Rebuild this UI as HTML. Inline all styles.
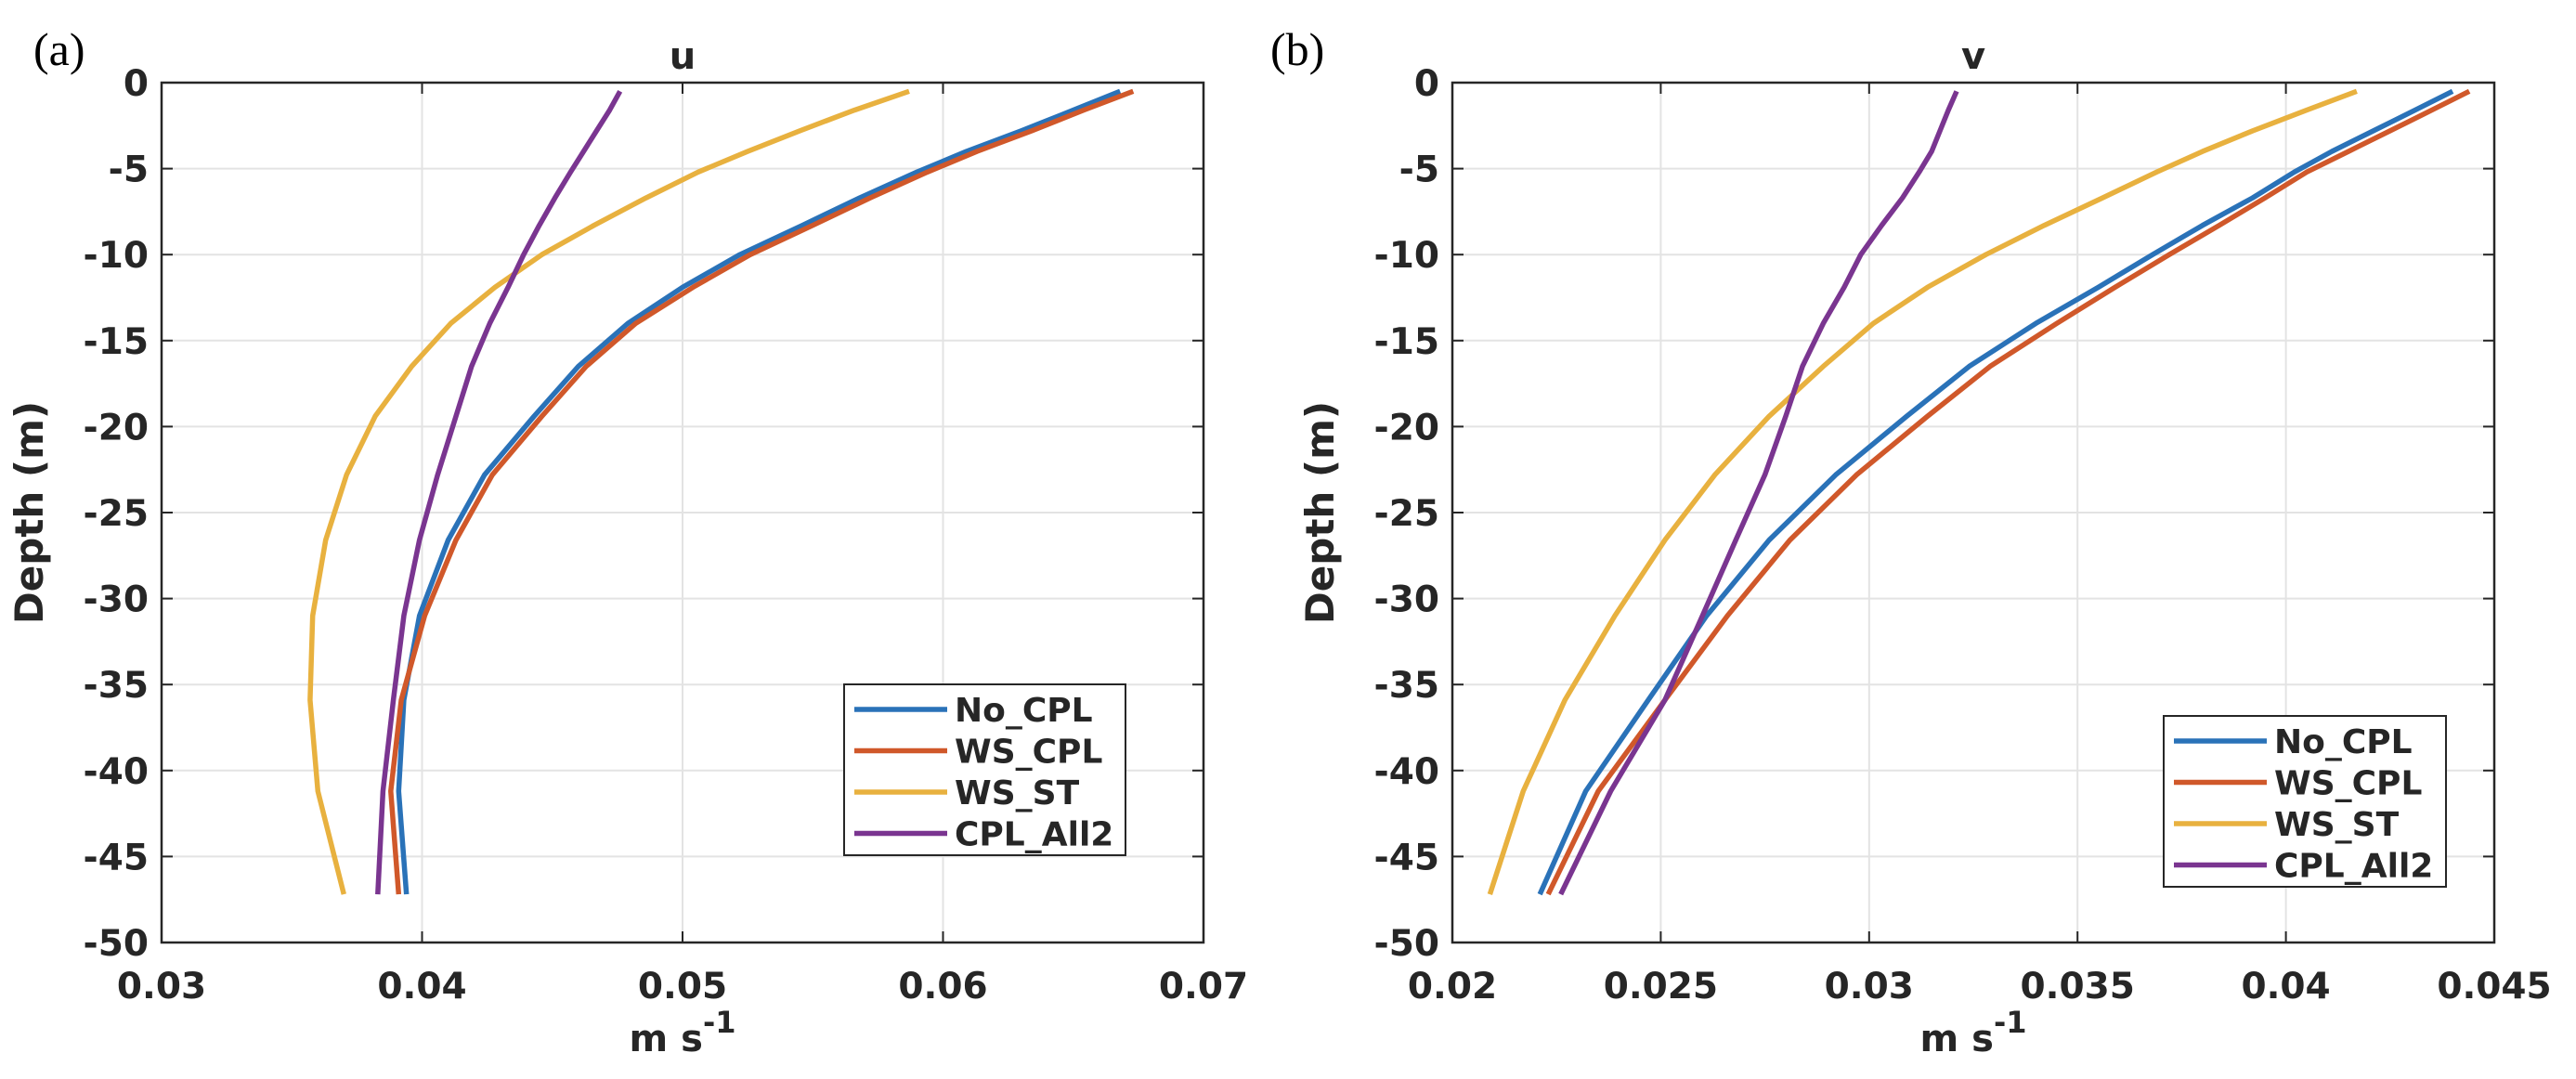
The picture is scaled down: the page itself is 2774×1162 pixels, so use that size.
<!DOCTYPE html>
<html><head><meta charset="utf-8">
<style>
html,body{margin:0;padding:0;background:#fff;}
svg{display:block;}
text{font-family:"DejaVu Sans","Liberation Sans",sans-serif;font-weight:bold;fill:#262626;}
.lbl{font-family:"Liberation Serif","DejaVu Serif",serif;font-weight:normal;fill:#000;}
</style></head>
<body>
<svg id="fig" width="2774" height="1162" viewBox="0 0 2774 1162"></svg>
<script>
const depths = [-0.5,-1.6,-2.8,-4,-5.2,-6.7,-8.3,-10,-11.9,-14,-16.5,-19.4,-22.8,-26.6,-31,-35.9,-41.2,-47.2];
const seriesNames = ["No_CPL","WS_CPL","WS_ST","CPL_All2"];
const uNoCPL = [0.0668,0.0650,0.0630,0.0609,0.0590,0.0568,0.0546,0.0522,0.0500,0.0479,0.0460,0.0443,0.0424,0.0410,0.0399,0.0393,0.0391,0.0394];
const uWSCPL = [0.0673,0.0654,0.0634,0.0613,0.0594,0.0572,0.0550,0.0526,0.0504,0.0482,0.0463,0.0446,0.0427,0.0413,0.0401,0.0392,0.0388,0.0391];
const uWSST = [0.0587,0.0566,0.0545,0.0525,0.0506,0.0486,0.0466,0.0446,0.0428,0.0411,0.0396,0.0382,0.0371,0.0363,0.0358,0.0357,0.0360,0.0370];
const uCPLAll2 = [0.0476,0.0472,0.0467,0.0462,0.0457,0.0451,0.0445,0.0439,0.0433,0.0426,0.0419,0.0413,0.0406,0.0399,0.0393,0.0389,0.0385,0.0383];
const vNoCPL = [0.0440,0.0431,0.0421,0.0411,0.0402,0.0392,0.0380,0.0368,0.0355,0.0340,0.0324,0.0309,0.0292,0.0276,0.0261,0.0247,0.0232,0.0221];
const vWSCPL = [0.0444,0.0435,0.0425,0.0415,0.0405,0.0395,0.0384,0.0372,0.0359,0.0345,0.0329,0.0314,0.0297,0.0281,0.0266,0.0251,0.0235,0.0223];
const vWSST = [0.0417,0.0405,0.0392,0.0380,0.0369,0.0356,0.0342,0.0328,0.0314,0.0301,0.0289,0.0276,0.0263,0.0251,0.0239,0.0227,0.0217,0.0209];
const vCPLAll2 = [0.0321,0.0319,0.0317,0.0315,0.0312,0.0308,0.0303,0.0298,0.0294,0.0289,0.0284,0.0280,0.0275,0.0268,0.0260,0.0251,0.0238,0.0226];
const yTicks = [0,-5,-10,-15,-20,-25,-30,-35,-40,-45,-50];
const uTicks = [0.03,0.04,0.05,0.06,0.07];
const uTickLabels = ["0.03","0.04","0.05","0.06","0.07"];
const vTicks = [0.02,0.025,0.03,0.035,0.04,0.045];
const vTickLabels = ["0.02","0.025","0.03","0.035","0.04","0.045"];

const colors = ["#2A72B8","#D0582A","#E8B13F","#7A3590"];
const NS = "http://www.w3.org/2000/svg";
const svg = document.getElementById('fig');
function mk(tag, attrs, parent){ const e=document.createElementNS(NS,tag); for(const k in attrs) e.setAttribute(k,attrs[k]); (parent||svg).appendChild(e); return e; }

function panel(cfg){
  const g = mk('g',{});
  
  
  const L=cfg.x0,R=cfg.x1,T=89,B=1015;
  const xs = v => L + (v-cfg.xmin)/(cfg.xmax-cfg.xmin)*(R-L);
  const ys = d => T + (0-d)/50*(B-T);
  cfg.xt.forEach(v=>{ const l=mk('line',{x1:xs(v),x2:xs(v),y1:T,y2:B,stroke:'#e3e3e3','stroke-width':2},g);
      });
  yTicks.forEach(v=>{ const l=mk('line',{x1:L,x2:R,y1:ys(v),y2:ys(v),stroke:'#e3e3e3','stroke-width':2},g);
      });
  cfg.xt.forEach(v=>{ mk('line',{x1:xs(v),x2:xs(v),y1:B,y2:B-12,stroke:'#262626','stroke-width':2},g); mk('line',{x1:xs(v),x2:xs(v),y1:T,y2:T+12,stroke:'#262626','stroke-width':2},g); });
  yTicks.forEach(v=>{ mk('line',{x1:L,x2:L+12,y1:ys(v),y2:ys(v),stroke:'#262626','stroke-width':2},g); mk('line',{x1:R,x2:R-12,y1:ys(v),y2:ys(v),stroke:'#262626','stroke-width':2},g); });
  cfg.series.forEach((arr,i)=>{
    const pts = arr.map((v,j)=>xs(v).toFixed(1)+','+ys(depths[j]).toFixed(1)).join(' ');
    const p = mk('polyline',{points:pts,fill:'none',stroke:colors[i],'stroke-width':5.5,'stroke-linejoin':'round'},g);
    
    
  });
  const box = mk('rect',{x:L,y:T,width:R-L,height:B-T,fill:'none',stroke:'#262626','stroke-width':2.5},g);
   
  cfg.xt.forEach((v,i)=>{ const t=mk('text',{x:xs(v),y:B+60,'text-anchor':'middle','font-size':39},g); t.textContent=cfg.xl[i];
      });
  yTicks.forEach(v=>{ const t=mk('text',{x:L-14,y:ys(v)+14,'text-anchor':'end','font-size':39},g); t.textContent=String(v);
      });
  const ti=mk('text',{x:(L+R)/2,y:74,'text-anchor':'middle','font-size':40},g); ti.textContent=cfg.title;
   
  const yl=mk('text',{x:0,y:0,'text-anchor':'middle','font-size':42,transform:`translate(${L-128},${(T+B)/2}) rotate(-90)`},g);
  yl.textContent='Depth (m)';
   
  const xl=mk('text',{x:(L+R)/2,y:1132,'text-anchor':'middle','font-size':40},g);
   
  xl.innerHTML='m s<tspan dy="-20" font-size="32">-1</tspan>';
  const pl=mk('text',{x:cfg.labx,y:70,'font-size':50,class:'lbl'},g); pl.textContent=cfg.lab;
   
  const lg=mk('g',{},g);
   
  mk('rect',{x:cfg.lx0,y:cfg.ly0,width:cfg.lx1-cfg.lx0,height:cfg.ly1-cfg.ly0,fill:'#fff',stroke:'#262626','stroke-width':2},lg);
  seriesNames.forEach((n,i)=>{
    const yy = cfg.ly0+27+i*44.5;
    mk('line',{x1:cfg.lx0+11,x2:cfg.lx0+111,y1:yy,y2:yy,stroke:colors[i],'stroke-width':5.5},lg);
    const t=mk('text',{x:cfg.lx0+119,y:yy+13,'font-size':36},lg); t.textContent=n;
     
  });
}
panel({name:'panel-u',x0:174,x1:1296,xmin:0.03,xmax:0.07,xt:uTicks,xl:uTickLabels,title:'u',lab:'(a)',labx:36,
  series:[uNoCPL,uWSCPL,uWSST,uCPLAll2],lx0:909,lx1:1212,ly0:737,ly1:921});
panel({name:'panel-v',x0:1564,x1:2686,xmin:0.02,xmax:0.045,xt:vTicks,xl:vTickLabels,title:'v',lab:'(b)',labx:1368,
  series:[vNoCPL,vWSCPL,vWSST,vCPLAll2],lx0:2330,lx1:2634,ly0:771,ly1:955});
</script>
</body></html>
